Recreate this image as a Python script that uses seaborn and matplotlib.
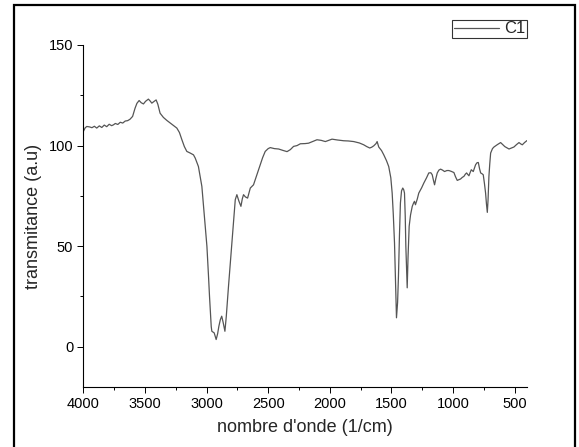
import matplotlib
matplotlib.use("Agg")
import matplotlib.pyplot as plt
from matplotlib.patches import Rectangle
from matplotlib.ticker import MultipleLocator
import seaborn as sns
import pandas as pd

wavenumber = [
    4000, 3985, 3972, 3950, 3930, 3910, 3891, 3870, 3850, 3830,
    3810, 3790, 3770, 3756, 3740, 3720, 3700, 3680, 3660, 3640,
    3621, 3600, 3580, 3565, 3547, 3530, 3512, 3495, 3472, 3458,
    3444, 3425, 3409, 3395, 3377, 3350, 3322, 3280, 3241, 3220,
    3200, 3180, 3160, 3133, 3106, 3092, 3066, 3052, 3038, 3025,
    3011, 2997, 2984, 2976, 2962, 2957, 2949, 2938, 2922, 2910,
    2900, 2888, 2877, 2865, 2851, 2840, 2822, 2805, 2786, 2767,
    2754, 2738, 2721, 2710, 2700, 2685, 2667, 2645, 2619, 2605,
    2585, 2564, 2545, 2524, 2500, 2483, 2450, 2415, 2380, 2347,
    2320, 2294, 2266, 2239, 2200, 2172, 2140, 2104, 2070, 2036,
    2010, 1982, 1940, 1887, 1850, 1806, 1760, 1725, 1700, 1676,
    1660, 1643, 1625, 1616, 1603, 1580, 1562, 1540, 1522, 1505,
    1494, 1485, 1475, 1466, 1459, 1450, 1443, 1435, 1427, 1418,
    1408, 1400, 1394, 1388, 1383, 1377, 1372, 1365, 1356, 1345,
    1331, 1320, 1313, 1305, 1290, 1278, 1255, 1237, 1215, 1197,
    1180, 1169, 1160, 1150, 1140, 1128, 1115, 1101, 1085, 1069,
    1050, 1034, 1015, 993, 980, 966, 955, 939, 925, 912,
    900, 890, 880, 871, 862, 852, 845, 836, 825, 817,
    805, 795, 785, 776, 765, 755, 745, 736, 729, 722,
    716, 709, 702, 695, 680, 668, 640, 614, 580, 546,
    525, 506, 485, 465, 450, 438, 420, 400,
]

transmittance = [
    107.0, 108.8, 109.5, 109.3, 108.9, 109.6, 108.7, 109.8, 109.0, 110.2,
    109.4, 110.6, 109.9, 110.3, 111.0, 110.5, 111.6, 111.2, 112.2, 112.4,
    113.1, 114.5, 118.6, 121.0, 122.4, 121.3, 120.7, 122.0, 123.1, 122.2,
    121.1, 122.0, 122.7, 120.5, 116.1, 114.0, 112.5, 110.5, 108.7, 106.5,
    102.9, 99.5, 97.1, 96.3, 95.4, 93.8, 89.6, 84.7, 79.7, 69.8,
    59.9, 49.9, 35.0, 25.1, 10.0, 7.7, 7.4, 6.9, 3.6, 6.5,
    10.2, 13.5, 15.2, 12.0, 7.7, 15.0, 30.0, 44.0, 58.2, 73.1,
    75.6, 72.5, 69.8, 73.5, 75.6, 74.5, 73.9, 78.9, 80.5, 83.0,
    86.5, 90.5, 94.0, 97.1, 98.5, 99.0, 98.5, 98.3, 97.6, 97.0,
    98.0, 99.6, 100.0, 100.9, 101.0, 101.2, 102.0, 102.9, 102.6, 102.0,
    102.6, 103.2, 102.8, 102.4, 102.3, 102.0, 101.3, 100.4, 99.5, 98.8,
    99.2, 99.9, 101.0, 102.0, 99.3, 97.5, 95.4, 92.5, 89.6, 84.0,
    76.4, 66.0, 51.6, 30.0, 14.4, 22.0, 35.0, 55.0, 71.5, 77.5,
    78.9, 78.0, 76.4, 65.0, 49.9, 38.0, 29.3, 45.0, 59.9, 65.5,
    69.8, 71.5, 72.3, 70.6, 73.5, 76.4, 79.0, 81.4, 84.0, 86.4,
    86.5, 85.5, 83.0, 80.5, 83.5, 86.4, 87.8, 88.3, 87.8, 87.1,
    87.6, 87.6, 87.2, 86.6, 84.5, 82.7, 83.0, 83.4, 84.2, 84.7,
    85.8, 86.4, 85.6, 85.0, 86.5, 88.0, 87.6, 87.1, 89.0, 90.5,
    91.5, 91.6, 88.5, 86.4, 86.0, 85.5, 81.0, 76.4, 71.0, 66.8,
    73.0, 84.7, 91.0, 96.3, 98.5, 99.3, 100.5, 101.5, 99.5, 98.3,
    98.8, 99.3, 100.5, 101.5, 100.8, 100.4, 101.5, 102.5,
]

series_label = "C1"
x_title = "nombre d'onde (1/cm)"
y_title = "transmitance (a.u)"
x_ticks = [4000, 3500, 3000, 2500, 2000, 1500, 1000, 500]
y_ticks = [0, 50, 100, 150]

sns.set_style("ticks")
plt.rcParams["font.family"] = ["Liberation Sans", "DejaVu Sans"]

df = pd.DataFrame({"wn": wavenumber, "t": transmittance})

W, H = 579, 447
fig = plt.figure(figsize=(W / 100, H / 100), dpi=100)
left, right, top, bottom = 83.3, 527.0, 45.0, 387.0
ax = fig.add_axes([left / W, (H - bottom) / H, (right - left) / W, (bottom - top) / H])

sns.lineplot(data=df, x="wn", y="t", ax=ax, color="#555555", linewidth=0.9,
             label=series_label, estimator=None)

ax.set_xlim(4000, 400)
ax.set_ylim(-20, 150)
ax.set_xticks(x_ticks)
ax.set_yticks(y_ticks)
ax.xaxis.set_minor_locator(MultipleLocator(250))
ax.yaxis.set_minor_locator(MultipleLocator(25))

for s in ["top", "right"]:
    ax.spines[s].set_visible(False)
for s in ["left", "bottom"]:
    ax.spines[s].set_linewidth(0.8)
    ax.spines[s].set_color("black")

ax.tick_params(which="major", direction="out", length=4.3, width=0.7,
               labelsize=10.5, colors="black", pad=3)
ax.tick_params(which="minor", direction="out", length=2.2, width=0.7, colors="black")

ax.set_xlabel(x_title, fontsize=13, labelpad=6)
ax.set_ylabel(y_title, fontsize=13, labelpad=5)

leg = ax.legend(loc="lower right", bbox_to_anchor=(1.0, 1.02), borderaxespad=0,
                frameon=True, fancybox=False, fontsize=12, handlelength=2.7,
                handletextpad=0.3, borderpad=0.1)
leg.get_frame().set_edgecolor("black")
leg.get_frame().set_linewidth(0.8)
for line in leg.get_lines():
    line.set_linewidth(0.9)

fig.patches.append(Rectangle((13.5 / W, -0.02), (574.5 - 13.5) / W, (H - 4.5) / H + 0.02,
                             transform=fig.transFigure, fill=False,
                             edgecolor="black", linewidth=1.6, zorder=10))

fig.savefig("out.png", dpi=100)
